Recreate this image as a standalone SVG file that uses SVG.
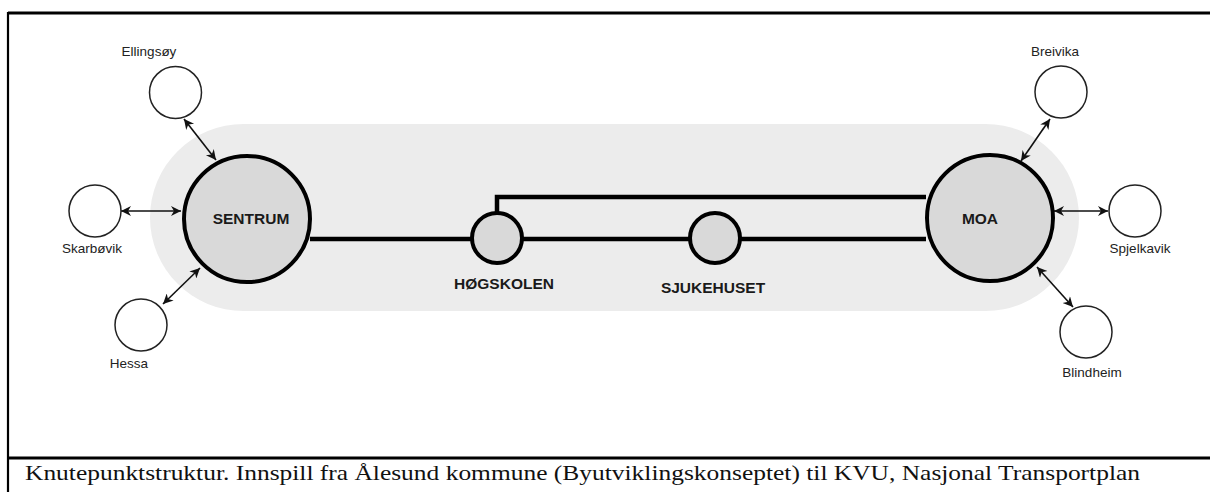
<svg xmlns="http://www.w3.org/2000/svg" width="1210" height="492" viewBox="0 0 1210 492">
<style>
.frame{stroke:#000;fill:none}
.hub{fill:#d9d9d9;stroke:#000;stroke-width:4}
.stop{fill:#d9d9d9;stroke:#000;stroke-width:4}
.sat{fill:#fff;stroke:#222;stroke-width:1.5}
.line{fill:none;stroke:#000;stroke-width:4.5}
.arr{fill:none;stroke:#111;stroke-width:1.6;marker-start:url(#ah);marker-end:url(#ah)}
.big{font-family:"Liberation Sans",Arial,sans-serif;font-weight:bold;font-size:15.5px;fill:#1a1a1a;text-anchor:middle}
.small{font-family:"Liberation Sans",Arial,sans-serif;font-size:13.5px;fill:#222;text-anchor:middle}
.cap{font-family:"Liberation Serif","Times New Roman",serif;font-size:21px;fill:#111}
</style>
<defs>
<marker id="ah" viewBox="0 0 10 10" refX="10" refY="5" markerWidth="12" markerHeight="10" markerUnits="userSpaceOnUse" orient="auto-start-reverse">
<path d="M0,0 L10,5 L0,10 L3,5 z" fill="#111"/>
</marker>
</defs>
<rect width="1210" height="492" fill="#fff"/>
<g id="frame">
<line class="frame" x1="8" y1="13" x2="1210" y2="13" stroke-width="3"/>
<line class="frame" x1="8" y1="12" x2="8" y2="492" stroke-width="2.2"/>
<line class="frame" x1="8" y1="458" x2="1210" y2="458" stroke-width="3"/>
</g>
<rect id="corridor" x="150" y="124" width="929" height="187" rx="93.5" fill="#ececec"/>
<g id="connectors">
<path class="line" d="M310,239 H926"/>
<path class="line" d="M497,214 V197 H926"/>
<line class="arr" x1="184" y1="119" x2="216" y2="160"/>
<line class="arr" x1="121" y1="211" x2="181" y2="211"/>
<line class="arr" x1="163" y1="304" x2="200" y2="268"/>
<line class="arr" x1="1050" y1="119" x2="1021" y2="161"/>
<line class="arr" x1="1054" y1="211" x2="1108" y2="211"/>
<line class="arr" x1="1037" y1="267" x2="1073" y2="307"/>
</g>
<g id="sentrum"><circle class="hub" cx="247" cy="219" r="63"/><text class="big" x="251" y="224">SENTRUM</text></g>
<g id="moa"><circle class="hub" cx="990" cy="218" r="63"/><text class="big" x="980" y="224">MOA</text></g>
<g id="hogskolen"><circle class="stop" cx="497" cy="238" r="25"/><text class="big" x="504" y="289">HØGSKOLEN</text></g>
<g id="sjukehuset"><circle class="stop" cx="715" cy="238" r="25"/><text class="big" x="713" y="293">SJUKEHUSET</text></g>
<g id="ellingsoy"><circle class="sat" cx="175.5" cy="92.5" r="26"/><text class="small" x="149" y="56">Ellingsøy</text></g>
<g id="skarbovik"><circle class="sat" cx="95" cy="211" r="26"/><text class="small" x="92" y="253">Skarbøvik</text></g>
<g id="hessa"><circle class="sat" cx="141" cy="325" r="26"/><text class="small" x="129" y="368">Hessa</text></g>
<g id="breivika"><circle class="sat" cx="1061" cy="92" r="26"/><text class="small" x="1055" y="56">Breivika</text></g>
<g id="spjelkavik"><circle class="sat" cx="1135" cy="211" r="26"/><text class="small" x="1140" y="253">Spjelkavik</text></g>
<g id="blindheim"><circle class="sat" cx="1086" cy="332" r="26"/><text class="small" x="1092" y="377">Blindheim</text></g>
<text class="cap" x="25" y="480" textLength="1115" lengthAdjust="spacingAndGlyphs">Knutepunktstruktur. Innspill fra Ålesund kommune  (Byutviklingskonseptet) til KVU,  Nasjonal Transportplan</text>
</svg>
